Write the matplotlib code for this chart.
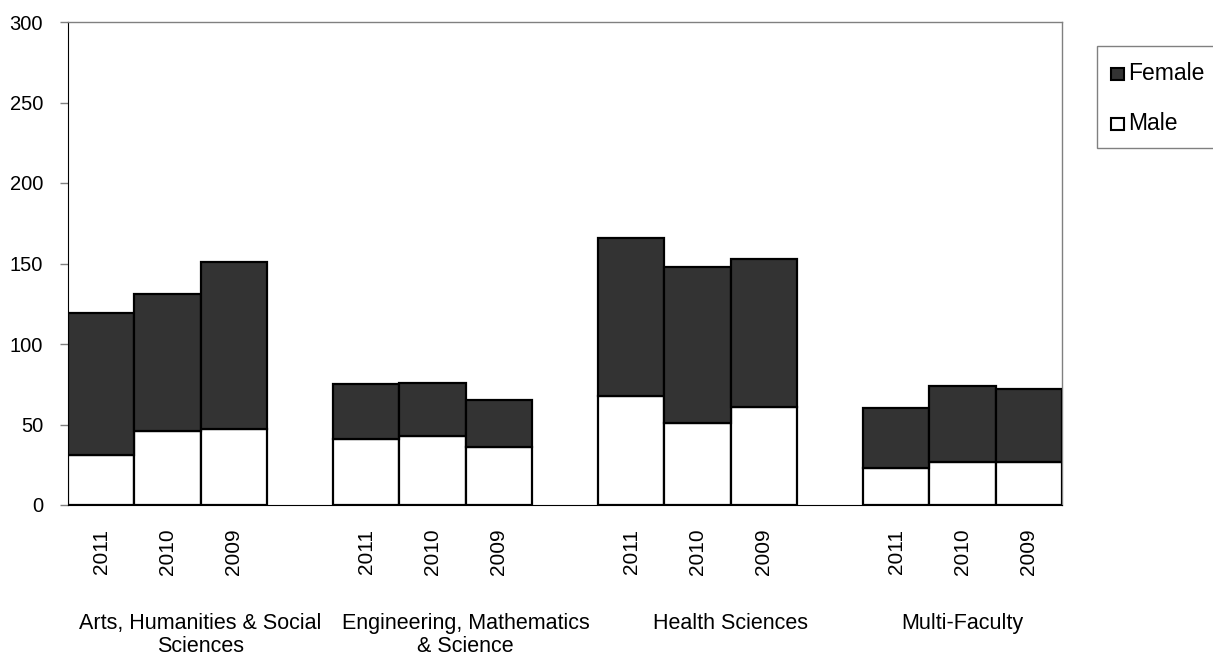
import matplotlib
matplotlib.use("Agg")
import matplotlib.pyplot as plt
from matplotlib.patches import Rectangle
from matplotlib.transforms import blended_transform_factory

plt.rcParams['font.family'] = ['Liberation Sans', 'DejaVu Sans']

groups = ["Arts, Humanities & Social\nSciences",
          "Engineering, Mathematics\n& Science",
          "Health Sciences",
          "Multi-Faculty"]
years = ["2011", "2010", "2009"]
male = [31, 46, 47,
        41, 43, 36,
        68, 51, 61,
        23, 27, 27]
total = [119, 131, 151,
         75, 76, 65,
         166, 148, 153,
         60, 74, 72]
female = [t - m for t, m in zip(total, male)]

W, H = 1213, 659
fig = plt.figure(figsize=(W / 100, H / 100), dpi=100)
ax = fig.add_axes([68 / W, 1 - 505 / H, (1062 - 68) / W, (505 - 22) / H])

pos = []
labels = []
for g in range(len(groups)):
    for k in range(len(years)):
        pos.append(4 * g + k)
        labels.append(years[k])

ax.bar(pos, male, width=1.0, color='white', edgecolor='black', linewidth=1.6, zorder=3)
ax.bar(pos, female, bottom=male, width=1.0, color='#333333', edgecolor='black', linewidth=1.6, zorder=3)

ax.set_xlim(-0.5, 14.5)
ax.set_ylim(0, 300)
ax.set_yticks(range(0, 301, 50))
ax.tick_params(axis='y', labelsize=14.5, length=6, width=1, color='#808080', pad=12)
ax.set_xticks(pos)
ax.set_xticklabels(labels, rotation=90, fontsize=15)
ax.tick_params(axis='x', length=0, pad=17)

for s in ['top', 'right']:
    ax.spines[s].set_color('#808080')
    ax.spines[s].set_linewidth(1)
ax.spines['left'].set_color('black')
ax.spines['bottom'].set_color('black')

trans = blended_transform_factory(ax.transData, fig.transFigure)
centers = [1.5, 5.5, 9.5, 13.0]
for c, name in zip(centers, groups):
    lines = name.split("\n")
    ys = [1 - 629 / H, 1 - 652 / H]
    for ln, yy in zip(lines, ys):
        ax.text(c, yy, ln, transform=trans, ha='center', va='baseline', fontsize=15.5, clip_on=False)

# legend (manual, frame cut off at the right edge)
fig.patches.append(Rectangle((1097 / W, 1 - 148 / H), 200 / W, (148 - 46) / H,
                             transform=fig.transFigure, facecolor='white',
                             edgecolor='#808080', linewidth=1, zorder=5))
entries = [("Female", '#333333', 74), ("Male", 'white', 124)]
for name, col, yc in entries:
    fig.patches.append(Rectangle((1111 / W, 1 - (yc + 6) / H), 13 / W, 12 / H,
                                 transform=fig.transFigure, facecolor=col,
                                 edgecolor='black', linewidth=1.5, zorder=6))
    fig.text(1128 / W, 1 - yc / H, name, fontsize=16.5, va='center', ha='left', zorder=7)

fig.savefig("out.png", dpi=100)
